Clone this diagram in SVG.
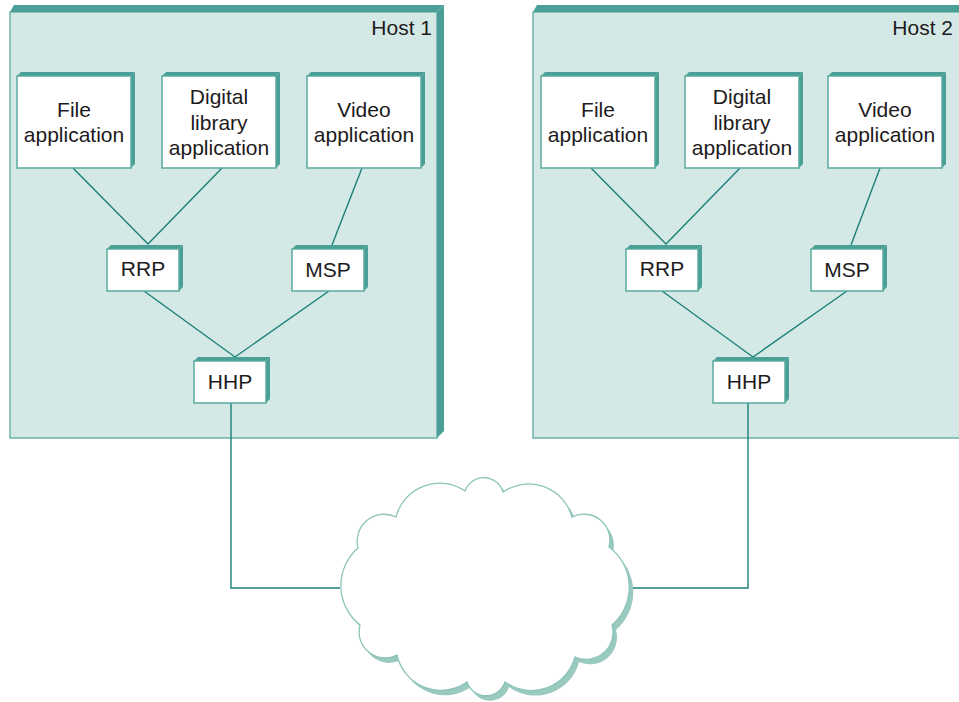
<svg xmlns="http://www.w3.org/2000/svg" width="959" height="702" viewBox="0 0 959 702">
<style>
.host{fill:#d4e9e5;stroke:#6bb3aa;stroke-width:1.5}
.bev{fill:#4a9f96}
.box{fill:#ffffff;stroke:#5aaaa0;stroke-width:1.5}
.t{font-family:"Liberation Sans",Arial,sans-serif;font-size:21px;fill:#1e1b1c;text-anchor:middle}
.s{font-family:"Liberation Sans",Arial,sans-serif;font-size:21px;fill:#1e1b1c;text-anchor:middle}
.h{font-family:"Liberation Sans",Arial,sans-serif;font-size:21px;fill:#1e1b1c;text-anchor:end}
.c{fill:none;stroke:#1a8078;stroke-width:1.4}
</style>
<defs>
<path id="cloudp" d="M465,491 A20,20 0 0 1 503,492 A45,45 0 0 1 572,517 A26,26 0 0 1 609,547 A50,50 0 0 1 612,625 A27,27 0 0 1 575,657 A45,45 0 0 1 505,682 A20,20 0 0 1 467,682 A45,45 0 0 1 397,655 A26,26 0 0 1 360,625 A50,50 0 0 1 358,548 A27,27 0 0 1 396,517 A45,45 0 0 1 465,491 Z"/>
</defs>
<rect width="959" height="702" fill="#ffffff"/>

<g id="host1">
<rect class="host" x="10" y="12" width="427" height="426"/>
<polygon class="bev" points="10,12 14,5 444,5 437,12"/>
<polygon class="bev" points="437,12 444,5 444,431 437,438"/>
<text class="h" x="432" y="35">Host 1</text>
</g>
<g id="host2">
<rect class="host" x="533" y="12" width="440" height="426"/>
<polygon class="bev" points="533,12 537,5 975,5 975,12"/>
<text class="h" x="953" y="35">Host 2</text>
</g>

<g id="connectors">
<polyline class="c" points="73,168 148,244 222,168"/>
<line class="c" x1="362" y1="168" x2="332" y2="245"/>
<polyline class="c" points="144,291 235,357 329,291"/>
<polyline class="c" points="231,403 231,588 340,588"/>
<polyline class="c" points="591,168 666,244 740,168"/>
<line class="c" x1="880" y1="168" x2="851" y2="245"/>
<polyline class="c" points="662,291 753,357 847,291"/>
<polyline class="c" points="748,403 748,588 628,588"/>
</g>

<g id="cloud">
<use href="#cloudp" transform="translate(4,5)" fill="#99c9bf"/>
<use href="#cloudp" fill="#ffffff" stroke="#8cc4ba" stroke-width="1.3"/>
</g>

<g id="file1">
<polygon class="bev" points="17,76 21,72 135,72 131,76"/>
<polygon class="bev" points="131,76 135,72 135,164 131,168"/>
<rect class="box" x="17" y="76" width="114" height="92"/>
<text class="t" x="74" y="117">File</text>
<text class="t" x="74" y="142">application</text>
</g>
<g id="digital1">
<polygon class="bev" points="162,76 166,72 280,72 276,76"/>
<polygon class="bev" points="276,76 280,72 280,164 276,168"/>
<rect class="box" x="162" y="76" width="114" height="92"/>
<text class="t" x="219" y="104">Digital</text>
<text class="t" x="219" y="129.5">library</text>
<text class="t" x="219" y="155">application</text>
</g>
<g id="video1">
<polygon class="bev" points="307,76 311,72 425,72 421,76"/>
<polygon class="bev" points="421,76 425,72 425,164 421,168"/>
<rect class="box" x="307" y="76" width="114" height="92"/>
<text class="t" x="364" y="117">Video</text>
<text class="t" x="364" y="142">application</text>
</g>
<g id="rrp1">
<polygon class="bev" points="107,249 111,245 183,245 179,249"/>
<polygon class="bev" points="179,249 183,245 183,287 179,291"/>
<rect class="box" x="107" y="249" width="72" height="42"/>
<text class="s" x="143" y="276">RRP</text>
</g>
<g id="msp1">
<polygon class="bev" points="292,249 296,245 368,245 364,249"/>
<polygon class="bev" points="364,249 368,245 368,287 364,291"/>
<rect class="box" x="292" y="249" width="72" height="42"/>
<text class="s" x="328" y="277">MSP</text>
</g>
<g id="hhp1">
<polygon class="bev" points="194,361 198,357 270,357 266,361"/>
<polygon class="bev" points="266,361 270,357 270,399 266,403"/>
<rect class="box" x="194" y="361" width="72" height="42"/>
<text class="s" x="230" y="389">HHP</text>
</g>

<g id="file2">
<polygon class="bev" points="541,76 545,72 659,72 655,76"/>
<polygon class="bev" points="655,76 659,72 659,164 655,168"/>
<rect class="box" x="541" y="76" width="114" height="92"/>
<text class="t" x="598" y="117">File</text>
<text class="t" x="598" y="142">application</text>
</g>
<g id="digital2">
<polygon class="bev" points="685,76 689,72 803,72 799,76"/>
<polygon class="bev" points="799,76 803,72 803,164 799,168"/>
<rect class="box" x="685" y="76" width="114" height="92"/>
<text class="t" x="742" y="104">Digital</text>
<text class="t" x="742" y="129.5">library</text>
<text class="t" x="742" y="155">application</text>
</g>
<g id="video2">
<polygon class="bev" points="828,76 832,72 946,72 942,76"/>
<polygon class="bev" points="942,76 946,72 946,164 942,168"/>
<rect class="box" x="828" y="76" width="114" height="92"/>
<text class="t" x="885" y="117">Video</text>
<text class="t" x="885" y="142">application</text>
</g>
<g id="rrp2">
<polygon class="bev" points="626,249 630,245 702,245 698,249"/>
<polygon class="bev" points="698,249 702,245 702,287 698,291"/>
<rect class="box" x="626" y="249" width="72" height="42"/>
<text class="s" x="662" y="276">RRP</text>
</g>
<g id="msp2">
<polygon class="bev" points="811,249 815,245 887,245 883,249"/>
<polygon class="bev" points="883,249 887,245 887,287 883,291"/>
<rect class="box" x="811" y="249" width="72" height="42"/>
<text class="s" x="847" y="277">MSP</text>
</g>
<g id="hhp2">
<polygon class="bev" points="713,361 717,357 789,357 785,361"/>
<polygon class="bev" points="785,361 789,357 789,399 785,403"/>
<rect class="box" x="713" y="361" width="72" height="42"/>
<text class="s" x="749" y="389">HHP</text>
</g>
</svg>
